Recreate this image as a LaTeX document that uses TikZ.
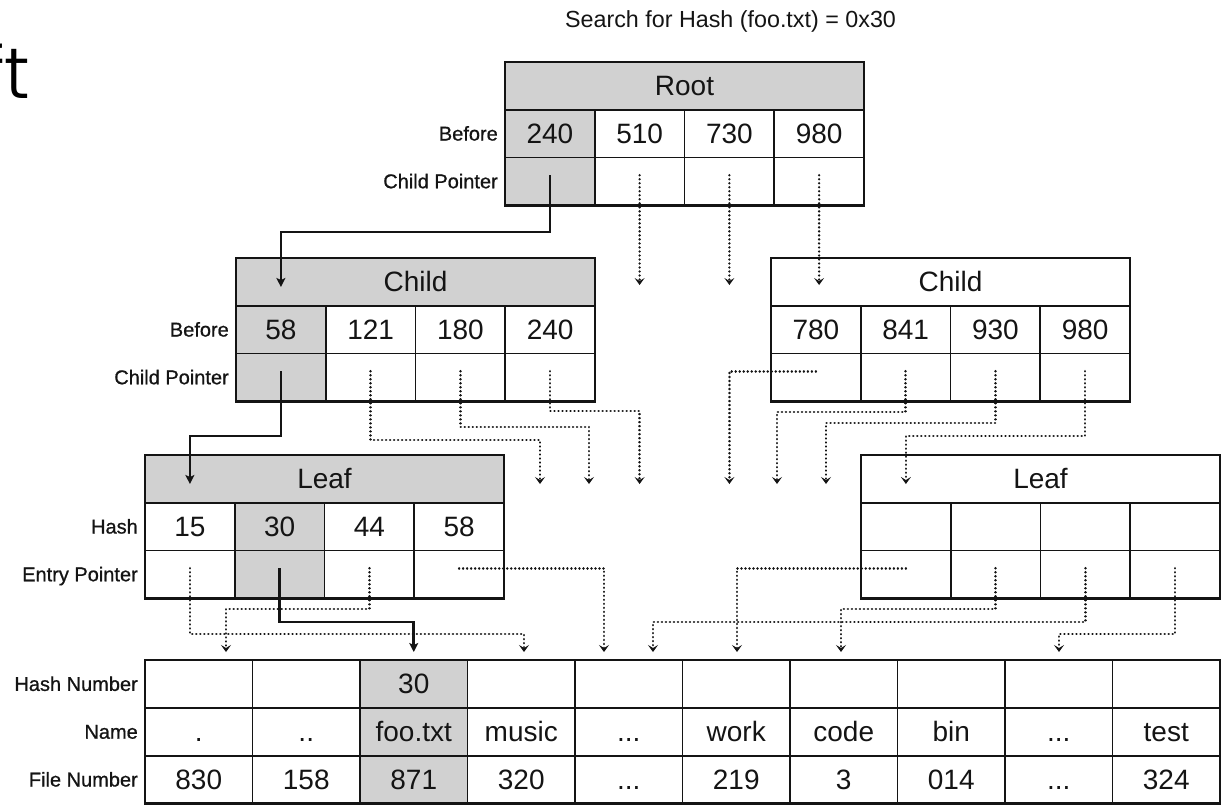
\documentclass[tikz,border=0pt]{standalone}
\usepackage{fontspec}
\setmainfont{Liberation Sans}
\IfFontExistsTF{Poppins Light}{\newfontfamily\fragfont{Poppins Light}}{\newfontfamily\fragfont{Poppins}}
\usetikzlibrary{arrows.meta,calc}
\definecolor{shade}{gray}{0.82}
\definecolor{ink}{gray}{0.08}
\newcommand\omitted{...}

\begin{document}
\begin{tikzpicture}[x=1pt,y=-1pt,
  cell/.style={draw=ink, line width=1.8pt, minimum width=89.75pt, minimum height=47.7pt,
    inner sep=0pt, outer sep=0pt, anchor=north west, text=ink,
    font=\fontsize{28}{30}\selectfont, text height=20pt, text depth=0pt},
  gcell/.style={cell, fill=shade},
  hdr/.style={cell, minimum width=359pt},
  tcell/.style={cell, minimum width=107.5pt, minimum height=47.8pt},
  tgcell/.style={tcell, fill=shade},
  frame/.style={draw=ink, line width=2.8pt},
  lbl/.style={anchor=east, inner sep=0pt, text=ink,
    font=\addfontfeature{FakeBold=0.8}\fontsize{20}{22}\selectfont, text height=14pt, text depth=0pt},
  sarr/.style={draw=ink, line width=2.6pt, -{Stealth[length=9pt,width=9pt,inset=2pt]}},
  darr/.style={draw=ink, line width=2.6pt, line cap=round, dash pattern=on 0.01pt off 4pt,
    -{Stealth[length=7pt,width=10pt,inset=3pt,line cap=butt]}}
]
\useasboundingbox (0,0) rectangle (1223,808);

% cropped lettering at the upper left
\node[anchor=base west, inner sep=0pt, font=\fragfont\fontsize{72}{72}\selectfont] (frag) at (-19,98) {ft};

% caption
\node[anchor=base, inner sep=0pt, text=ink, font=\fontsize{23.3}{28}\selectfont] (title) at (730.5,28)
  {Search for Hash (foo.txt) = 0x30};

% ---------- root node ----------
\node[hdr, fill=shade] (rh) at (505,62) {Root};
\foreach \i/\v/\st in {1/240/gcell,2/510/cell,3/730/cell,4/980/cell}{
  \node[\st] (rv\i) at ({505+(\i-1)*89.75},109.7) {\v};
  \node[\st] (rp\i) at ({505+(\i-1)*89.75},157.4) {};
}
\draw[frame] (rh.north west) rectangle (rp4.south east);
\node[lbl] (rlb1) at ([xshift=-7pt]rv1.west) {Before};
\node[lbl] (rlb2) at ([xshift=-7pt]rp1.west) {Child Pointer};

% ---------- left child ----------
\node[hdr, fill=shade] (lch) at (236,258) {Child};
\foreach \i/\v/\st in {1/58/gcell,2/121/cell,3/180/cell,4/240/cell}{
  \node[\st] (lcv\i) at ({236+(\i-1)*89.75},305.7) {\v};
  \node[\st] (lcp\i) at ({236+(\i-1)*89.75},353.4) {};
}
\draw[frame] (lch.north west) rectangle (lcp4.south east);
\node[lbl] (lclb1) at ([xshift=-7pt]lcv1.west) {Before};
\node[lbl] (lclb2) at ([xshift=-7pt]lcp1.west) {Child Pointer};

% ---------- right child ----------
\node[hdr] (rch) at (771,258) {Child};
\foreach \i/\v in {1/780,2/841,3/930,4/980}{
  \node[cell] (rcv\i) at ({771+(\i-1)*89.75},305.7) {\v};
  \node[cell] (rcp\i) at ({771+(\i-1)*89.75},353.4) {};
}
\draw[frame] (rch.north west) rectangle (rcp4.south east);

% ---------- left leaf ----------
\node[hdr, fill=shade] (llh) at (145,455) {Leaf};
\foreach \i/\v/\st in {1/15/cell,2/30/gcell,3/44/cell,4/58/cell}{
  \node[\st] (llv\i) at ({145+(\i-1)*89.75},502.7) {\v};
  \node[\st] (llp\i) at ({145+(\i-1)*89.75},550.4) {};
}
\draw[frame] (llh.north west) rectangle (llp4.south east);
\node[lbl] (lllb1) at ([xshift=-7pt]llv1.west) {Hash};
\node[lbl] (lllb2) at ([xshift=-7pt]llp1.west) {Entry Pointer};

% ---------- right leaf ----------
\node[hdr] (rlh) at (861,455) {Leaf};
\foreach \i in {1,2,3,4}{
  \node[cell] (rlv\i) at ({861+(\i-1)*89.75},502.7) {};
  \node[cell] (rlp\i) at ({861+(\i-1)*89.75},550.4) {};
}
\draw[frame] (rlh.north west) rectangle (rlp4.south east);

% ---------- directory entries ----------
\foreach \i/\a/\b/\c in {1//./830, 2//../158, 3/30/foo.txt/871, 4//music/320, 5//\omitted/\omitted,
    6//work/219, 7//code/3, 8//bin/014, 9//\omitted/\omitted, 10//test/324}{
  \ifnum\i=3 \def\st{tgcell}\else\def\st{tcell}\fi
  \node[\st] (th\i) at ({145+(\i-1)*107.5},660) {\a};
  \node[\st] (tn\i) at ({145+(\i-1)*107.5},707.8) {\b};
  \node[\st] (tf\i) at ({145+(\i-1)*107.5},755.6) {\c};
}
\draw[frame] (th1.north west) rectangle (tf10.south east);
\node[lbl] (tlb1) at ([xshift=-7pt]th1.west) {Hash Number};
\node[lbl] (tlb2) at ([xshift=-7pt]tn1.west) {Name};
\node[lbl] (tlb3) at ([xshift=-7pt]tf1.west) {File Number};

% ---------- arrow ends ----------
\coordinate (a1) at (280.9,287);
\coordinate (a2) at (189.9,484);
\coordinate (a3) at (413.75,652);
\coordinate (a4) at (639.6,285);
\coordinate (a5) at (729.4,285);
\coordinate (a6) at (819.1,285);
\coordinate (a7) at (540,484);
\coordinate (a8) at (589,484);
\coordinate (a9) at (639.6,484);
\coordinate (a10) at (729.4,484);
\coordinate (a11) at (777,484);
\coordinate (a12) at (826,484);
\coordinate (a13) at (905.9,484);
\coordinate (a14) at (524,652);
\coordinate (a15) at (226,652);
\coordinate (a16) at (604,652);
\coordinate (a17) at (737,652);
\coordinate (a18) at (841,652);
\coordinate (a19) at (653,652);
\coordinate (a20) at (1059,652);

% ---------- search path ----------
\draw[sarr] ([yshift=6pt]rp1.center) -- (rp1.center |- 0,232) -| (a1);
\draw[sarr] ([yshift=6pt]lcp1.center) -- (lcp1.center |- 0,436) -| (a2);
\draw[sarr] ([yshift=6pt]llp2.center) -- (llp2.center |- 0,622) -| (a3);

% ---------- other pointers ----------
\draw[darr] ([yshift=6pt]rp2.center) -- (a4);
\draw[darr] ([yshift=6pt]rp3.center) -- (a5);
\draw[darr] ([yshift=6pt]rp4.center) -- (a6);

\draw[darr] ([yshift=6pt]lcp2.center) -- (lcp2.center |- 0,440) -| (a7);
\draw[darr] ([yshift=6pt]lcp3.center) -- (lcp3.center |- 0,427) -| (a8);
\draw[darr] ([yshift=6pt]lcp4.center) -- (lcp4.center |- 0,411) -| (a9);

\draw[darr] ([yshift=6pt]rcp1.center) -| (a10);
\draw[darr] ([yshift=6pt]rcp2.center) -- (rcp2.center |- 0,412) -| (a11);
\draw[darr] ([yshift=6pt]rcp3.center) -- (rcp3.center |- 0,423) -| (a12);
\draw[darr] ([yshift=6pt]rcp4.center) -- (rcp4.center |- 0,436) -| (a13);

\draw[darr] ([yshift=6pt]llp1.center) -- (llp1.center |- 0,634) -| (a14);
\draw[darr] ([yshift=6pt]llp3.center) -- (llp3.center |- 0,609) -| (a15);
\draw[darr] ([yshift=6pt]llp4.center) -| (a16);

\draw[darr] ([yshift=6pt]rlp1.center) -| (a17);
\draw[darr] ([yshift=6pt]rlp2.center) -- (rlp2.center |- 0,609) -| (a18);
\draw[darr] ([yshift=6pt]rlp3.center) -- (rlp3.center |- 0,622) -| (a19);
\draw[darr] ([yshift=6pt]rlp4.center) -- (rlp4.center |- 0,634) -| (a20);
\end{tikzpicture}
\end{document}
